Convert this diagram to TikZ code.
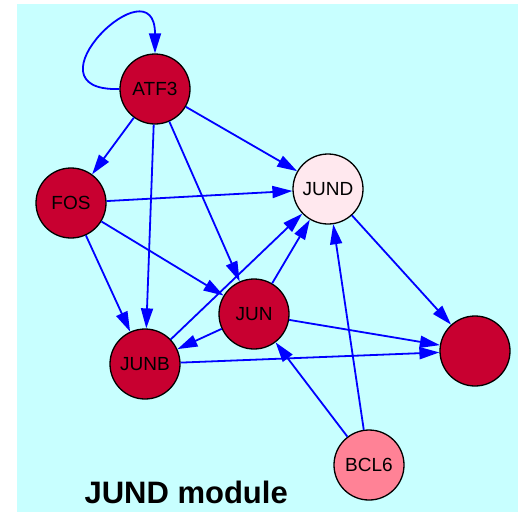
\documentclass[tikz,border=0pt]{standalone}
\usepackage{fontspec}
\setmainfont{Liberation Sans}
\usetikzlibrary{arrows.meta}
\definecolor{bgcyan}{RGB}{200,255,255}
\definecolor{genered}{RGB}{200,0,48}
\definecolor{genepale}{RGB}{255,232,238}
\definecolor{genepink}{RGB}{255,130,150}
\definecolor{edgeblue}{RGB}{0,0,255}
\tikzset{gene/.style={circle,draw=black,line width=1.3pt,fill=genered,
minimum size=70pt,inner sep=0pt,font=\fontsize{19}{19}\selectfont},
paleGene/.style={gene,fill=genepale},
pinkGene/.style={gene,fill=genepink},
reg/.style={-{Triangle[length=20pt,width=12pt]},draw=edgeblue,line width=1.8pt}}

\begin{document}
\begin{tikzpicture}[x=1pt,y=-1pt]
  \useasboundingbox (0,0) rectangle (518,512);
  \fill[bgcyan] (17,4) rectangle (518,512);

  \node(ATF3) [gene] at (155,89) {ATF3};
  \node(FOS) [gene] at (71,203) {FOS};
  \node(JUND) [paleGene] at (328,189) {JUND};
  \node(JUN) [gene] at (254,314) {JUN};
  \node(JUNB) [gene] at (145,364) {JUNB};
  \node(X) [gene] at (475,351) {};
  \node(BCL6) [pinkGene] at (369,465) {BCL6};
  \node(title) [anchor=base west,font=\bfseries\fontsize{31}{31}\selectfont] at (81,503) {JUND module};

\draw[reg]
(ATF3.west)
   .. controls (20,92) and (155,-40) ..
(ATF3.north);
\draw
(ATF3)
   edge [reg]
(FOS);
\draw
(ATF3)
   edge [reg]
(JUNB);
\draw
(ATF3)
   edge [reg]
(JUN);
\draw
(ATF3)
   edge [reg]
(JUND);
\draw
(FOS)
   edge [reg]
(JUND);
\draw
(FOS)
   edge [reg]
(JUNB);
\draw
(FOS)
   edge [reg]
(JUN);
\draw
(JUNB)
   edge [reg]
(JUND);
\draw
(JUN)
   edge [reg]
(JUND);
\draw
(JUN)
   edge [reg]
(JUNB);
\draw
(JUN)
   edge [reg]
(X);
\draw
(JUNB)
   edge [reg]
(X);
\draw
(JUND)
   edge [reg]
(X);
\draw
(BCL6)
   edge [reg]
(JUN);
\draw
(BCL6)
   edge [reg]
(JUND);
\end{tikzpicture}
\end{document}
